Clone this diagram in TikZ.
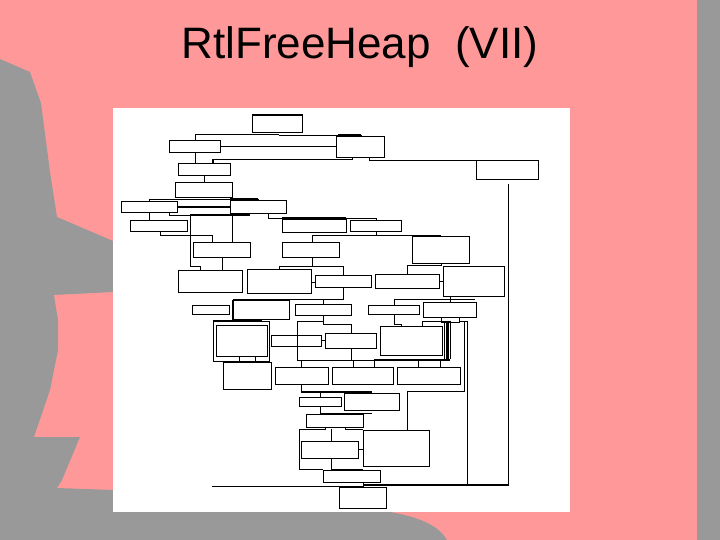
\documentclass[tikz,border=0pt]{standalone}
\usepackage{fontspec}
\setmainfont{Liberation Sans}
\definecolor{slidepink}{HTML}{FF9999}
\definecolor{slidegray}{HTML}{999999}
\newcommand\bx[5]{\node[box,anchor=north west,minimum width={(#4-#2)*1pt},minimum height={(#5-#3)*1pt}] (#1) at (#2,#3) {};}
\begin{document}
\begin{tikzpicture}[x=1pt,y=-1pt,
  box/.style={draw=black,line width=1.1pt,fill=white,inner sep=0pt,outer sep=0pt},
  ln/.style={draw=black,line width=1.1pt},
  thk/.style={draw=black,line width=2pt}]
\useasboundingbox (0,0) rectangle (720,540);
\fill[slidepink] (0,0) rectangle (720,540);
\fill[slidegray] (697,0) rectangle (720,540);
\fill[slidegray] (0,59) -- (30,72) -- (41,103) -- (50,172) -- (57,217) -- (113,241) -- (113,292)
  -- (54,295) -- (58,320) -- (58,350) -- (50,390) -- (34,437) -- (80,437) -- (62,480) -- (57,488)
  -- (113,490) -- (113,512) -- (390,512) .. controls (425,518) and (440,528) .. (447,540) -- (0,540) -- cycle;
\node[font=\fontsize{44}{48}\selectfont,anchor=center] (title) at (360,47) {RtlFreeHeap\ \ (VII)};
\fill[white] (113,108) rectangle (570,512);
% boxes
\bx{b1}{252.3}{115}{302.3}{132.3}
\bx{b2}{169.3}{140.3}{220.3}{152.3}
\bx{b3}{336.3}{136.3}{384.3}{157.3}
\bx{b4}{178.3}{163.3}{230.3}{175.3}
\bx{b5}{476.3}{160.3}{538.3}{179.3}
\bx{b6}{175.3}{182.3}{232.3}{197.3}
\bx{b7}{121.3}{201.3}{177.3}{212.3}
\bx{b8}{230.3}{200.3}{286.3}{213.3}
\bx{b9}{130.3}{220.3}{187.3}{231.3}
\bx{b10}{282.3}{219}{346.3}{232.3}
\bx{b11}{350.3}{220.3}{401.3}{231.3}
\bx{b12}{193.3}{242.3}{250.3}{257.3}
\bx{b13}{282.3}{242.3}{339.3}{257.3}
\bx{b14}{412.3}{236.3}{469.3}{263.3}
\bx{b15}{178.3}{270.3}{242.3}{292.3}
\bx{b16}{247.3}{269.3}{311.7}{293.3}
\bx{b17}{315.3}{275.3}{371.3}{287.3}
\bx{b18}{375.3}{274.3}{439.3}{288.3}
\bx{b19}{443.3}{266.3}{504.3}{296.3}
\bx{c1}{192.3}{305.3}{229.7}{314.3}
\bx{c2}{233}{300.3}{289.3}{319.3}
\bx{c3}{295.3}{304.3}{351.3}{315.3}
\bx{c4}{368.3}{305.3}{419.3}{314.3}
\bx{c5}{423.3}{302.3}{476.3}{317.3}
\bx{c5b}{441.3}{317.3}{459.7}{322.3}
\bx{c6o}{213.3}{321.3}{269.3}{361.3}
\bx{c6}{216.3}{325.3}{267.3}{356.3}
\bx{c7}{223.3}{362.3}{271.3}{389.3}
\bx{c8}{271.3}{335.3}{321.3}{346.3}
\bx{c9}{325.3}{333.3}{376.3}{348.3}
\bx{c10}{380.3}{326.3}{442.3}{355.3}
\bx{c11}{275.3}{367.3}{328.3}{384.3}
\bx{c12}{332.3}{367.3}{393.3}{384.3}
\bx{c13}{397.3}{367.3}{460.3}{384.3}
\bx{c14}{299.3}{397.3}{341.3}{406.3}
\bx{c15}{344.3}{393.3}{399.3}{410.3}
\bx{c16}{306.3}{414.3}{363.3}{427.3}
\bx{c17}{301.3}{441.3}{358.3}{458.3}
\bx{c18}{363.3}{430.3}{429.3}{466.3}
\bx{c19}{323.3}{470.3}{380.3}{482.3}
\bx{c20}{339.3}{487.3}{386.3}{508.3}
% connectors
\draw[ln] (195.7,140.3) -- (195.7,134.3) -- (278.7,134.3);
\draw[ln] (278.7,135.3) -- (361.3,135.3) -- (361.3,136.3);
\draw[thk] (338,135.3) -- (361,135.3);
\draw[ln] (b2.east) -- (b3.west |- b2.east);
\draw[ln] (195.7,152.3) -- (195.7,163.3);
\draw[ln] (213,163.3) -- (213,159.3) -- (352.3,159.3) -- (352.3,157.3);
\draw[ln] (369.7,157.3) -- (369.7,160.3) -- (b5.north west);
\draw[ln] (508.3,184) -- (508.3,485) -- (363.7,485);
\draw[ln] (212.3,486.3) -- (363.7,486.3);
\draw[thk] (363.7,485.3) -- (467.3,485.3);
\draw[ln] (467.3,321.3) -- (467.3,485);
\draw[ln] (204.3,175.3) -- (204.3,182.3);
\draw[ln] (149.3,201.3) -- (149.3,199.3) -- (258.3,199.3) -- (258.3,200.3);
\draw[thk] (230,199.3) -- (258,199.3);
\draw[ln] (b7.east |- 0,207) -- (b8.west |- 0,207);
\draw[ln] (149.3,212.3) -- (149.3,220.3);
\draw[ln] (169.7,212.3) -- (169.7,215.3) -- (249.7,215.3);
\draw[thk] (190.3,215.3) -- (249.7,215.3);
\draw[ln] (190.3,215.3) -- (190.3,266.3) -- (200.7,266.3) -- (200.7,270.3);
\draw[ln] (232.3,215.3) -- (232.3,242.3);
\draw[ln] (268.3,213.3) -- (268.3,218.3) -- (376.3,218.3) -- (376.3,220.3);
\draw[thk] (282.3,218.3) -- (346.3,218.3);
\draw[ln] (160.7,231.3) -- (160.7,235.3) -- (212.3,235.3) -- (212.3,242.3);
\draw[ln] (376.3,231.3) -- (376.3,235.3);
\draw[ln] (312.3,242.3) -- (312.3,235.3) -- (441.3,235.3);
\draw[thk] (412.3,235.6) -- (441.3,235.6);
\draw[ln] (222.3,257.3) -- (222.3,270.3);
\draw[ln] (312.3,257.3) -- (312.3,266.3);
\draw[ln] (279.7,269.3) -- (279.7,266.3) -- (343.3,266.3) -- (343.3,275.3);
\draw[ln] (b16.east |- 0,282.3) -- (b17.west |- 0,282.3);
\draw[ln] (441.3,263.3) -- (441.3,265.3) -- (407.3,265.3) -- (407.3,274.3);
\draw[ln] (b18.east |- 0,281.3) -- (b19.west |- 0,281.3);
\draw[ln] (343.3,287.3) -- (343.3,299.3) -- (233,299.3);
\draw[thk] (261,299.6) -- (289.3,299.6);
\draw[ln] (323.3,299.3) -- (323.3,304.3);
\draw[ln] (450.3,296.3) -- (450.3,299.3);
\draw[ln] (394.7,305.3) -- (394.7,299.3) -- (474.7,299.3);
\draw[ln] (450.3,299.3) -- (450.3,302.3);
\draw[thk] (213.3,321.3) -- (261.7,321.3);
\draw[ln] (242.3,319.3) -- (242.3,321.3);
\draw[ln] (323.3,315.3) -- (323.3,324.3) -- (351.3,324.3) -- (351.3,333.3);
\draw[ln] (323.3,321.3) -- (297.3,321.3) -- (297.3,360.3) -- (301.3,360.3) -- (301.3,367.3);
\draw[ln] (c8.east |- 0,340.7) -- (c9.west |- 0,340.7);
\draw[ln] (351.3,348.3) -- (351.3,360.3);
\draw[ln] (297.3,360.3) -- (450.3,360.3);
\draw[thk] (374.3,359.6) -- (450.3,359.6);
\draw[ln] (353.3,360.3) -- (353.3,367.3);
\draw[ln] (374.3,360.3) -- (374.3,367.3);
\draw[ln] (418.3,360.3) -- (418.3,367.3);
\draw[ln] (440.3,360.3) -- (440.3,367.3);
\draw[ln] (394.7,314.3) -- (394.7,324.3) -- (401.3,324.3) -- (401.3,326.3);
\draw[ln] (422.3,326.3) -- (422.3,321.3) -- (441.3,321.3);
\draw[ln] (459.7,321.3) -- (467.3,321.3);
\foreach \xx in {444.7,446.3,448,450.3} \draw[ln] (\xx,321.3) -- (\xx,359.3);
\draw[ln] (442.3,321.3) -- (450.3,321.3);
\draw[ln] (464.3,321.3) -- (464.3,391.3) -- (407.3,391.3) -- (407.3,430.3);
\draw[ln] (239.7,356.3) -- (239.7,362.3);
\draw[ln] (255.3,356.3) -- (255.3,362.3);
\draw[ln] (301.3,384.3) -- (301.3,392) -- (372.3,392);
\draw[ln] (320.3,392) -- (320.3,397.3);
\draw[ln] (320.3,406.3) -- (320.3,413.3) -- (372.3,413.3);
\draw[ln] (325.3,427.3) -- (325.3,429.3) -- (299.3,429.3) -- (299.3,469.3) -- (323.3,469.3);
\draw[ln] (331.3,429.3) -- (331.3,441.3);
\draw[ln] (345.3,427.3) -- (345.3,429.3) -- (363.3,429.3);
\draw[ln] (331.3,458.3) -- (331.3,470.3);
\draw[ln] (c17.east |- 0,449.3) -- (c18.west |- 0,449.3);
\draw[thk] (331.3,470) -- (363,470);
\draw[ln] (363.7,482.3) -- (363.7,487.3);
\end{tikzpicture}
\end{document}
